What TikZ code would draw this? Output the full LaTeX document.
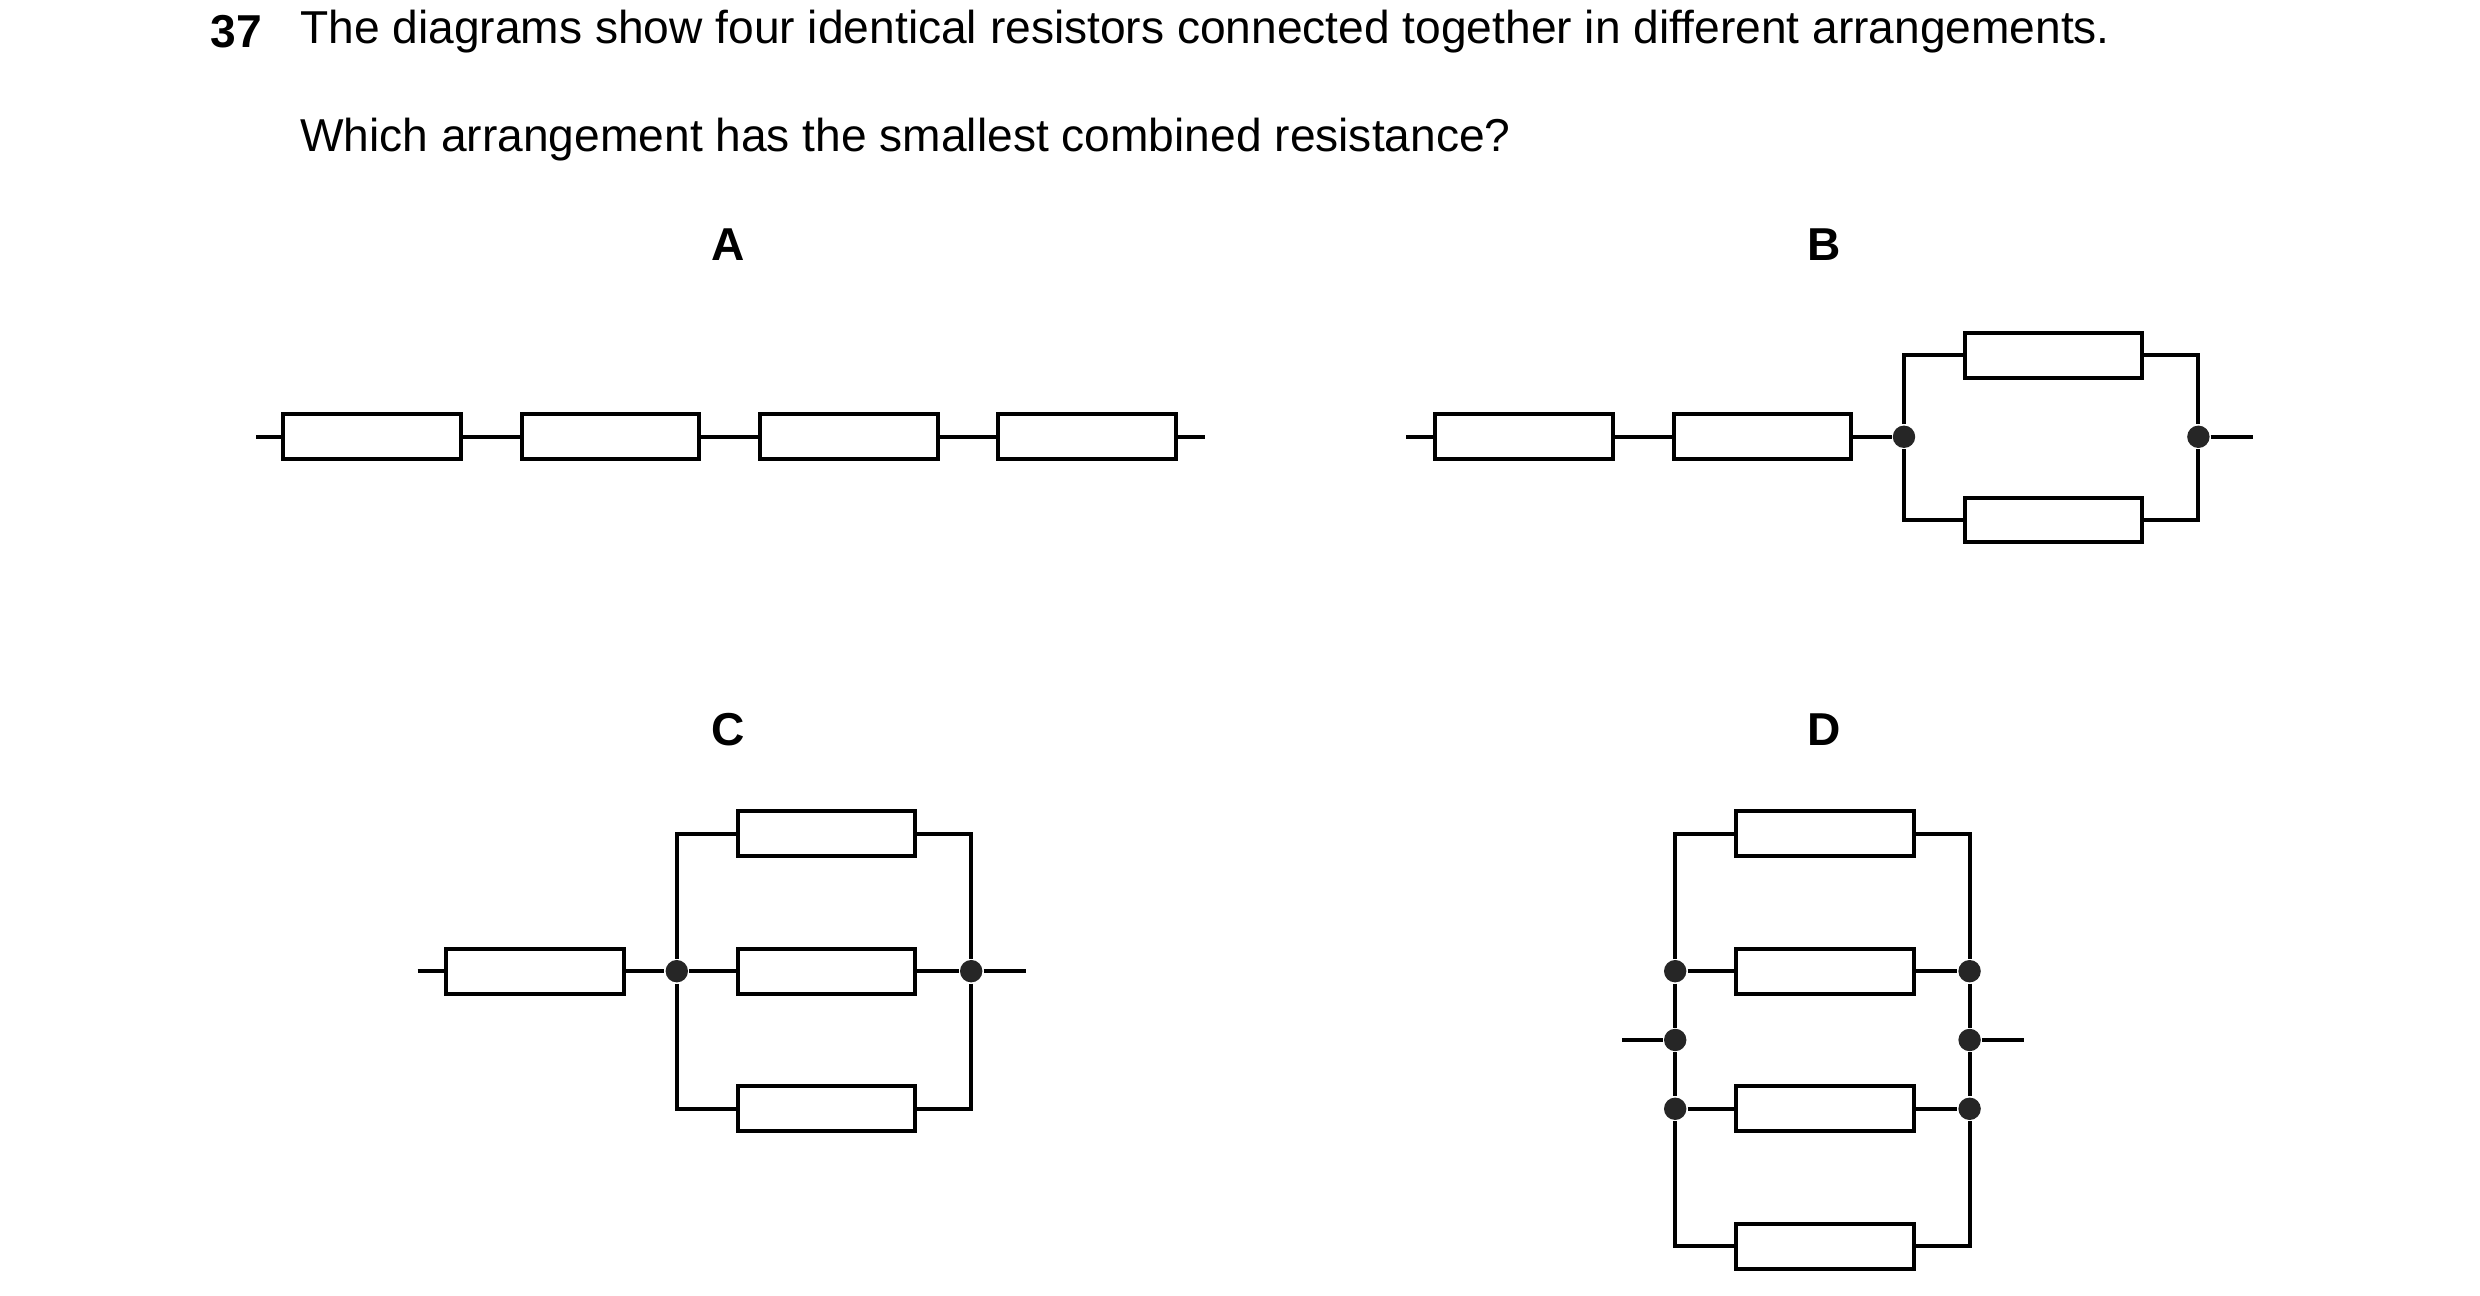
\documentclass[tikz,border=0pt]{standalone}
\usepackage{fontspec}
\setmainfont{Liberation Sans}
\usetikzlibrary{positioning}
\tikzset{
  res/.style={draw,line width=0.7pt,fill=white,minimum width=1.11cm,minimum height=0.28cm,inner sep=0pt},
  wire/.style={line width=0.7pt},
  dot/.style={circle,fill=black!85,inner sep=0pt,minimum size=0.14cm},
  lbl/.style={font=\fontsize{8.2}{10}\selectfont\bfseries},
  txt/.style={font=\fontsize{8.2}{10}\selectfont,anchor=west,inner sep=0pt}
}
\begin{document}
\begin{tikzpicture}[x=0.01cm,y=-0.01cm]
\useasboundingbox (0,0) rectangle (1550,809.4);
%--- question text
\node[txt,font=\fontsize{8.2}{10}\selectfont\bfseries] (num) at (131,20) {37};
\node[txt] (q1) at (187,20) {The diagrams show four identical resistors connected together in different arrangements.};
\node[txt] (q2) at (187,87) {Which arrangement has the smallest combined resistance?};
\node[lbl] (lA) at (455,153) {A};
\node[lbl] (lB) at (1140,153) {B};
\node[lbl] (lC) at (455,456) {C};
\node[lbl] (lD) at (1140,456) {D};
%--- A: four in series
\coordinate (aL) at (160,273);
\coordinate (aR) at (753,273);
\foreach \i/\x in {1/232.5,2/381.5,3/530.5,4/679.5}
  \node[res] (a\i) at (\x,273) {};
\draw[wire] (aL) -- (a1.west) (a1.east) -- (a2.west) (a2.east) -- (a3.west)
  (a3.east) -- (a4.west) (a4.east) -- (aR);
%--- B: two in series, then two in parallel
\coordinate (bL) at (879,273);
\coordinate (bR) at (1408,273);
\node[res] (b1) at (952.5,273) {};
\node[res] (b2) at (1101.5,273) {};
\node[res] (b3) at (1283.5,222) {};
\node[res] (b4) at (1283.5,325) {};
\node[dot] (bj1) at (1190,273) {};
\node[dot] (bj2) at (1374,273) {};
\draw[wire] (bL) -- (b1.west) (b1.east) -- (b2.west) (b2.east) -- (bj1)
  (bj2) -- (bR);
\draw[wire] (b3.west) -| (bj1) |- (b4.west);
\draw[wire] (b3.east) -| (bj2) |- (b4.east);
%--- C: one in series, then three in parallel
\coordinate (cL) at (261,607);
\coordinate (cR) at (641,607);
\node[res] (c1) at (334.5,607) {};
\foreach \i/\y in {2/521,3/607,4/693}
  \node[res] (c\i) at (516.5,\y) {};
\node[dot] (cj1) at (423,607) {};
\node[dot] (cj2) at (607,607) {};
\draw[wire] (cL) -- (c1.west) (c1.east) -- (cj1) -- (c3.west)
  (c3.east) -- (cj2) -- (cR);
\draw[wire] (c2.west) -| (cj1) |- (c4.west);
\draw[wire] (c2.east) -| (cj2) |- (c4.east);
%--- D: four in parallel
\foreach \i/\y in {1/521,2/607,3/693,4/779}
  \node[res] (d\i) at (1140.5,\y) {};
\node[dot] (dl1) at (1047,607) {};
\node[dot] (dl2) at (1047,650) {};
\node[dot] (dl3) at (1047,693) {};
\node[dot] (dr1) at (1231,607) {};
\node[dot] (dr2) at (1231,650) {};
\node[dot] (dr3) at (1231,693) {};
\coordinate (dL) at (1014,650);
\coordinate (dR) at (1265,650);
\draw[wire] (d1.west) -| (dl1) -- (dl2) -- (dl3) |- (d4.west);
\draw[wire] (d1.east) -| (dr1) -- (dr2) -- (dr3) |- (d4.east);
\draw[wire] (dl1) -- (d2.west) (d2.east) -- (dr1)
  (dl3) -- (d3.west) (d3.east) -- (dr3)
  (dL) -- (dl2) (dr2) -- (dR);
\end{tikzpicture}
\end{document}
